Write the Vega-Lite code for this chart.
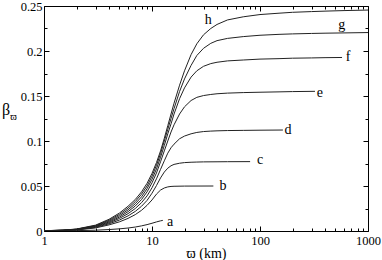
{
  "$schema": "https://vega.github.io/schema/vega-lite/v6.json",
  "width": 324,
  "height": 225,
  "autosize": "none",
  "padding": {"left": 44, "top": 6, "right": 14, "bottom": 29},
  "background": "white",
  "config": {
    "view": {"stroke": null},
    "font": "Liberation Serif",
    "axis": {
      "grid": false,
      "domainColor": "#000",
      "domainWidth": 1,
      "tickColor": "#000",
      "tickWidth": 1,
      "labelFont": "Liberation Serif",
      "labelFontSize": 12.5,
      "labelColor": "#000",
      "titleFont": "Liberation Serif",
      "titleColor": "#000",
      "titleFontWeight": "normal",
      "labelOverlap": false,
      "labelBound": false,
      "labelFlush": false
    }
  },
  "datasets": {
    "curves": [
      {"c":"h","x":1,"y":0.0003},{"c":"h","x":1.5,"y":0.001},{"c":"h","x":2,"y":0.0022},{"c":"h","x":3,"y":0.0065},{"c":"h","x":4,"y":0.013},{"c":"h","x":5,"y":0.02},{"c":"h","x":6,"y":0.0275},{"c":"h","x":7,"y":0.035},{"c":"h","x":8,"y":0.0435},{"c":"h","x":9,"y":0.053},{"c":"h","x":10,"y":0.064},{"c":"h","x":11,"y":0.076},{"c":"h","x":12,"y":0.089},{"c":"h","x":13,"y":0.103},{"c":"h","x":14,"y":0.117},{"c":"h","x":15,"y":0.13},{"c":"h","x":16,"y":0.142},{"c":"h","x":18,"y":0.162},{"c":"h","x":20,"y":0.178},{"c":"h","x":23,"y":0.196},{"c":"h","x":26,"y":0.208},{"c":"h","x":30,"y":0.218},{"c":"h","x":35,"y":0.225},{"c":"h","x":40,"y":0.2295},{"c":"h","x":50,"y":0.2345},{"c":"h","x":70,"y":0.238},{"c":"h","x":100,"y":0.2405},{"c":"h","x":150,"y":0.242},{"c":"h","x":200,"y":0.243},{"c":"h","x":300,"y":0.2438},{"c":"h","x":400,"y":0.2443},{"c":"h","x":600,"y":0.2449},{"c":"h","x":1000,"y":0.2455},
      {"c":"g","x":1,"y":0.0003},{"c":"g","x":1.5,"y":0.0009},{"c":"g","x":2,"y":0.002},{"c":"g","x":3,"y":0.006},{"c":"g","x":4,"y":0.012},{"c":"g","x":5,"y":0.0185},{"c":"g","x":6,"y":0.0255},{"c":"g","x":7,"y":0.0327},{"c":"g","x":8,"y":0.041},{"c":"g","x":9,"y":0.05},{"c":"g","x":10,"y":0.061},{"c":"g","x":11,"y":0.073},{"c":"g","x":12,"y":0.086},{"c":"g","x":13,"y":0.1},{"c":"g","x":14,"y":0.113},{"c":"g","x":15,"y":0.125},{"c":"g","x":16,"y":0.136},{"c":"g","x":18,"y":0.155},{"c":"g","x":20,"y":0.169},{"c":"g","x":23,"y":0.184},{"c":"g","x":26,"y":0.195},{"c":"g","x":30,"y":0.203},{"c":"g","x":35,"y":0.2085},{"c":"g","x":40,"y":0.2115},{"c":"g","x":50,"y":0.214},{"c":"g","x":70,"y":0.216},{"c":"g","x":100,"y":0.2175},{"c":"g","x":150,"y":0.2185},{"c":"g","x":200,"y":0.219},{"c":"g","x":300,"y":0.2195},{"c":"g","x":400,"y":0.2198},{"c":"g","x":600,"y":0.2201},{"c":"g","x":1000,"y":0.2205},
      {"c":"f","x":1,"y":0.0003},{"c":"f","x":1.5,"y":0.0009},{"c":"f","x":2,"y":0.0019},{"c":"f","x":3,"y":0.0056},{"c":"f","x":4,"y":0.011},{"c":"f","x":5,"y":0.017},{"c":"f","x":6,"y":0.0235},{"c":"f","x":7,"y":0.0303},{"c":"f","x":8,"y":0.038},{"c":"f","x":9,"y":0.047},{"c":"f","x":10,"y":0.0575},{"c":"f","x":11,"y":0.069},{"c":"f","x":12,"y":0.082},{"c":"f","x":13,"y":0.095},{"c":"f","x":14,"y":0.108},{"c":"f","x":15,"y":0.119},{"c":"f","x":16,"y":0.13},{"c":"f","x":18,"y":0.147},{"c":"f","x":20,"y":0.159},{"c":"f","x":23,"y":0.171},{"c":"f","x":26,"y":0.178},{"c":"f","x":30,"y":0.183},{"c":"f","x":35,"y":0.186},{"c":"f","x":40,"y":0.1875},{"c":"f","x":50,"y":0.189},{"c":"f","x":70,"y":0.19},{"c":"f","x":100,"y":0.191},{"c":"f","x":150,"y":0.1915},{"c":"f","x":200,"y":0.192},{"c":"f","x":300,"y":0.1923},{"c":"f","x":400,"y":0.1926},{"c":"f","x":575,"y":0.1928},
      {"c":"e","x":1,"y":0.0002},{"c":"e","x":1.5,"y":0.0008},{"c":"e","x":2,"y":0.0017},{"c":"e","x":3,"y":0.0051},{"c":"e","x":4,"y":0.01},{"c":"e","x":5,"y":0.0155},{"c":"e","x":6,"y":0.0215},{"c":"e","x":7,"y":0.0278},{"c":"e","x":8,"y":0.035},{"c":"e","x":9,"y":0.0435},{"c":"e","x":10,"y":0.0535},{"c":"e","x":11,"y":0.0645},{"c":"e","x":12,"y":0.077},{"c":"e","x":13,"y":0.089},{"c":"e","x":14,"y":0.1},{"c":"e","x":15,"y":0.11},{"c":"e","x":16,"y":0.118},{"c":"e","x":18,"y":0.13},{"c":"e","x":20,"y":0.138},{"c":"e","x":23,"y":0.145},{"c":"e","x":26,"y":0.1485},{"c":"e","x":30,"y":0.1505},{"c":"e","x":35,"y":0.1517},{"c":"e","x":40,"y":0.1525},{"c":"e","x":50,"y":0.1532},{"c":"e","x":70,"y":0.1538},{"c":"e","x":100,"y":0.1542},{"c":"e","x":150,"y":0.1546},{"c":"e","x":200,"y":0.1549},{"c":"e","x":323,"y":0.1552},
      {"c":"d","x":1,"y":0.0002},{"c":"d","x":1.5,"y":0.0007},{"c":"d","x":2,"y":0.0015},{"c":"d","x":3,"y":0.0046},{"c":"d","x":4,"y":0.009},{"c":"d","x":5,"y":0.014},{"c":"d","x":6,"y":0.0193},{"c":"d","x":7,"y":0.025},{"c":"d","x":8,"y":0.0315},{"c":"d","x":9,"y":0.039},{"c":"d","x":10,"y":0.048},{"c":"d","x":11,"y":0.058},{"c":"d","x":12,"y":0.0685},{"c":"d","x":13,"y":0.078},{"c":"d","x":14,"y":0.0865},{"c":"d","x":15,"y":0.0925},{"c":"d","x":16,"y":0.0965},{"c":"d","x":18,"y":0.1025},{"c":"d","x":20,"y":0.1055},{"c":"d","x":23,"y":0.108},{"c":"d","x":26,"y":0.1095},{"c":"d","x":30,"y":0.1105},{"c":"d","x":35,"y":0.111},{"c":"d","x":40,"y":0.1113},{"c":"d","x":50,"y":0.1116},{"c":"d","x":70,"y":0.1118},{"c":"d","x":100,"y":0.112},{"c":"d","x":163,"y":0.1122},
      {"c":"c","x":1,"y":0.0002},{"c":"c","x":1.5,"y":0.0006},{"c":"c","x":2,"y":0.0013},{"c":"c","x":3,"y":0.004},{"c":"c","x":4,"y":0.008},{"c":"c","x":5,"y":0.0122},{"c":"c","x":6,"y":0.0168},{"c":"c","x":7,"y":0.0218},{"c":"c","x":8,"y":0.0275},{"c":"c","x":9,"y":0.034},{"c":"c","x":10,"y":0.042},{"c":"c","x":11,"y":0.0505},{"c":"c","x":12,"y":0.059},{"c":"c","x":13,"y":0.0655},{"c":"c","x":14,"y":0.0698},{"c":"c","x":15,"y":0.0725},{"c":"c","x":16,"y":0.074},{"c":"c","x":18,"y":0.0753},{"c":"c","x":20,"y":0.076},{"c":"c","x":23,"y":0.0764},{"c":"c","x":26,"y":0.0766},{"c":"c","x":30,"y":0.0768},{"c":"c","x":40,"y":0.0769},{"c":"c","x":50,"y":0.077},{"c":"c","x":81,"y":0.0771},
      {"c":"b","x":1,"y":0.0001},{"c":"b","x":1.5,"y":0.0005},{"c":"b","x":2,"y":0.0011},{"c":"b","x":3,"y":0.0034},{"c":"b","x":4,"y":0.0068},{"c":"b","x":5,"y":0.0102},{"c":"b","x":6,"y":0.014},{"c":"b","x":7,"y":0.0182},{"c":"b","x":8,"y":0.023},{"c":"b","x":9,"y":0.0285},{"c":"b","x":10,"y":0.0345},{"c":"b","x":11,"y":0.041},{"c":"b","x":12,"y":0.0455},{"c":"b","x":13,"y":0.0478},{"c":"b","x":14,"y":0.049},{"c":"b","x":15,"y":0.0495},{"c":"b","x":16,"y":0.0497},{"c":"b","x":20,"y":0.0499},{"c":"b","x":37,"y":0.05},
      {"c":"a","x":1,"y":0.0001},{"c":"a","x":1.5,"y":0.0002},{"c":"a","x":2,"y":0.0004},{"c":"a","x":3,"y":0.0009},{"c":"a","x":4,"y":0.0016},{"c":"a","x":5,"y":0.0024},{"c":"a","x":6,"y":0.0033},{"c":"a","x":7,"y":0.0044},{"c":"a","x":8,"y":0.0057},{"c":"a","x":9,"y":0.0071},{"c":"a","x":10,"y":0.0086},{"c":"a","x":11,"y":0.0101},{"c":"a","x":12,"y":0.0113},{"c":"a","x":12.6,"y":0.0118}
    ],
    "labels": [
      {"t":"a","x":14.7,"y":0.0097},
      {"t":"b","x":45.4,"y":0.0497},
      {"t":"c","x":100,"y":0.0786},
      {"t":"d","x":181.6,"y":0.112},
      {"t":"e","x":359,"y":0.153},
      {"t":"f","x":653,"y":0.193},
      {"t":"g","x":570,"y":0.2286},
      {"t":"h","x":33.2,"y":0.234}
    ]
  },
  "layer": [
    {
      "data": {"name": "curves"},
      "mark": {"type": "line", "color": "#222", "strokeWidth": 1, "clip": true},
      "encoding": {
        "x": {
          "field": "x", "type": "quantitative",
          "scale": {"type": "log", "domain": [1, 1000], "nice": false},
          "axis": {
            "orient": "bottom",
            "values": [1,2,3,4,5,6,7,8,9,10,20,30,40,50,60,70,80,90,100,200,300,400,500,600,700,800,900,1000],
            "labelExpr": "indexof([1,10,100,1000], datum.value) >= 0 ? '' + datum.value : ''",
            "tickSize": {"condition": {"test": "indexof([1,10,100,1000], datum.value) >= 0", "value": -5}, "value": -3},
            "labelPadding": 8,
            "title": "ϖ (km)",
            "titleFontSize": 14,
            "titleX": 162,
            "titleY": 22,
            "titleAlign": "center",
            "titleBaseline": "middle"
          }
        },
        "y": {
          "field": "y", "type": "quantitative",
          "scale": {"domain": [0, 0.25], "nice": false, "zero": false},
          "axis": {
            "orient": "left",
            "values": [0,0.025,0.05,0.075,0.1,0.125,0.15,0.175,0.2,0.225,0.25],
            "labelExpr": "indexof([0,0.05,0.1,0.15,0.2,0.25], datum.value) >= 0 ? '' + datum.value : ''",
            "tickSize": {"condition": {"test": "indexof([0,0.05,0.1,0.15,0.2,0.25], datum.value) >= 0", "value": -5}, "value": -3},
            "labelPadding": 7,
            "title": "β",
            "titleFontSize": 16,
            "titleAngle": 0,
            "titleX": -38.5,
            "titleY": 103,
            "titleAlign": "center",
            "titleBaseline": "middle"
          }
        },
        "detail": {"field": "c", "type": "nominal"}
      }
    },
    {
      "data": {"name": "labels"},
      "mark": {"type": "text", "font": "Liberation Serif", "fontSize": 14, "color": "#000", "align": "center", "baseline": "middle"},
      "encoding": {
        "x": {"field": "x", "type": "quantitative", "axis": null},
        "y": {"field": "y", "type": "quantitative", "axis": null},
        "text": {"field": "t"}
      }
    },
    {
      "data": {"name": "curves"},
      "mark": {"type": "line", "opacity": 0},
      "encoding": {
        "x": {
          "field": "x", "type": "quantitative",
          "axis": {
            "orient": "top",
            "values": [1,2,3,4,5,6,7,8,9,10,20,30,40,50,60,70,80,90,100,200,300,400,500,600,700,800,900,1000],
            "labels": false,
            "tickSize": {"condition": {"test": "indexof([1,10,100,1000], datum.value) >= 0", "value": -5}, "value": -3},
            "title": null
          }
        },
        "y": {
          "field": "y", "type": "quantitative",
          "axis": {
            "orient": "right",
            "values": [0,0.025,0.05,0.075,0.1,0.125,0.15,0.175,0.2,0.225,0.25],
            "labels": false,
            "tickSize": {"condition": {"test": "indexof([0,0.05,0.1,0.15,0.2,0.25], datum.value) >= 0", "value": -5}, "value": -3},
            "title": "ϖ",
            "titleFontSize": 10,
            "titleAngle": 0,
            "titleX": -355,
            "titleY": 110,
            "titleAlign": "center",
            "titleBaseline": "middle"
          }
        },
        "detail": {"field": "c", "type": "nominal"}
      }
    }
  ],
  "resolve": {"axis": {"x": "independent", "y": "independent"}}
}
